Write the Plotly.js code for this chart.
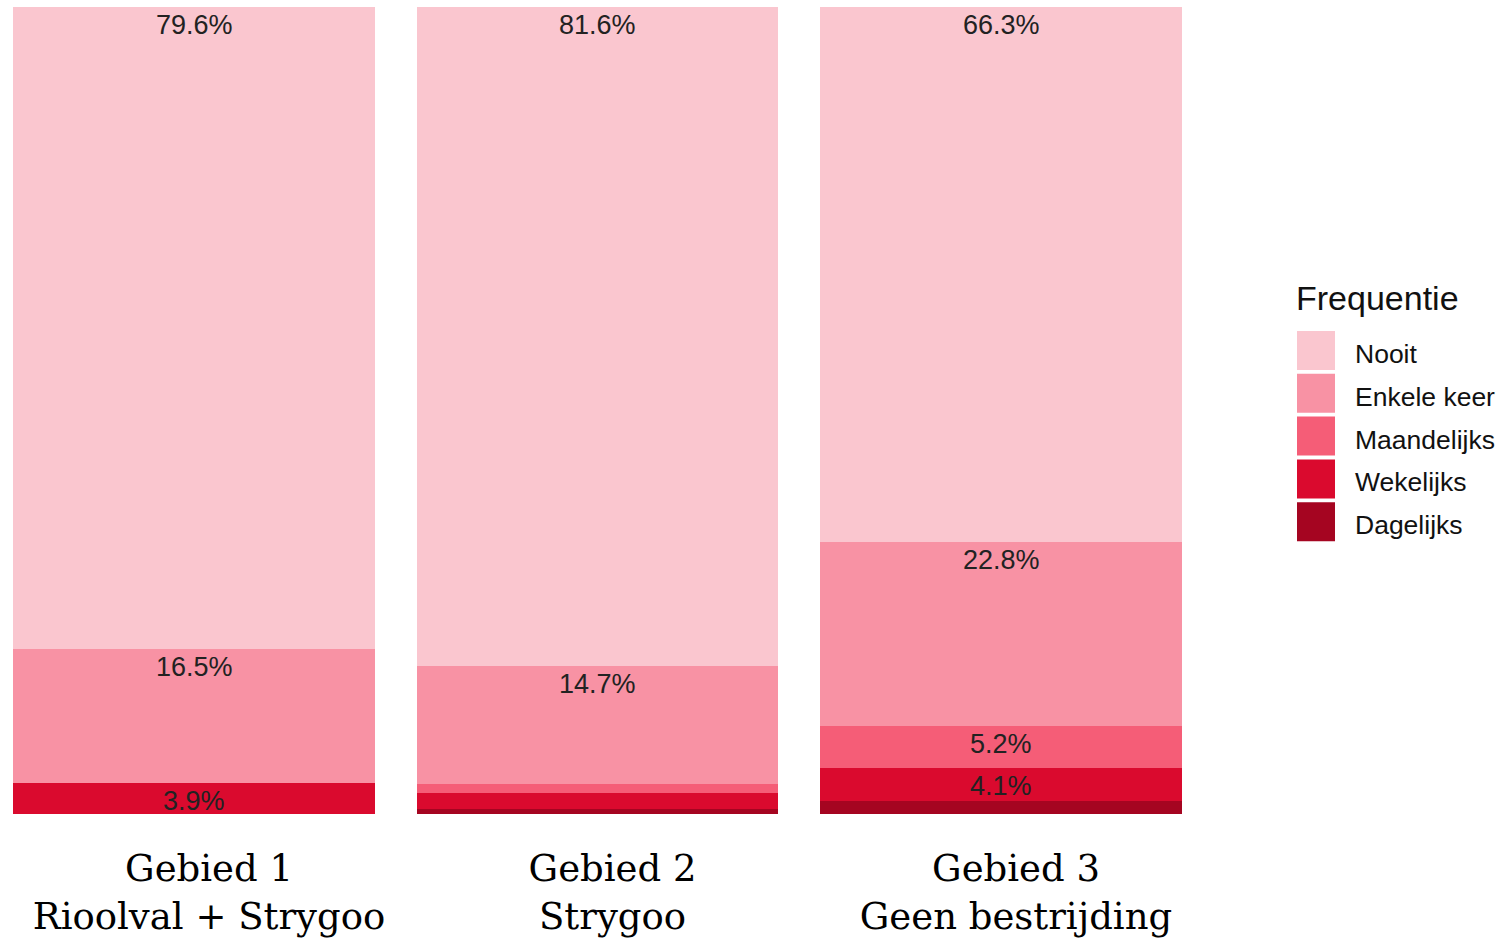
<!DOCTYPE html>
<html>
<head>
<meta charset="utf-8">
<script src="https://cdn.plot.ly/plotly-3.0.1.min.js"></script>
<style>html,body{margin:0;padding:0;background:#fff;}#chart{width:1501px;height:945px;}</style>
</head>
<body>
<div id="chart"></div>
<script>
// ---- data ----
const categories = ["Gebied 1<br>Rioolval + Strygoo", "Gebied 2<br>Strygoo", "Gebied 3<br>Geen bestrijding"];
const seriesNames = ["Nooit", "Enkele keer", "Maandelijks", "Wekelijks", "Dagelijks"];
const nooit       = [79.6, 81.6, 66.3];
const enkeleKeer  = [16.5, 14.7, 22.8];
const maandelijks = [0.0, 1.1, 5.2];
const wekelijks   = [3.9, 2.0, 4.1];
const dagelijks   = [0.0, 0.6, 1.6];
const seriesColors = ["#FAC6CF", "#F892A4", "#F55D77", "#DA0A2E", "#A50521"];
const legendTitle = "Frequentie";
const labelThreshold = 3.5;

const seriesValues = [nooit, enkeleKeer, maandelijks, wekelijks, dagelijks];

// ---- geometry ----
const W = 1501, H = 945;
const ml = 0, mr = 311, mt = 7, mb = 131;
const plotW = W - ml - mr, plotH = H - mt - mb;
const pxPerUnit = 403.5;
const firstCenter = 194;
const xRange = [-firstCenter / pxPerUnit, (plotW - firstCenter) / pxPerUnit];

// stack bottom-up: Dagelijks first
const traces = [];
for (let i = seriesNames.length - 1; i >= 0; i--) {
  traces.push({
    type: "bar",
    name: seriesNames[i],
    x: [0, 1, 2],
    y: seriesValues[i],
    marker: {color: seriesColors[i], line: {width: 0}},
    hoverinfo: "name+y",
    showlegend: false
  });
}

// value labels near top of each segment
const annotations = [];
for (let c = 0; c < categories.length; c++) {
  let cum = 0;
  for (let i = seriesNames.length - 1; i >= 0; i--) {
    const v = seriesValues[i][c];
    cum += v;
    if (v >= labelThreshold) {
      annotations.push({
        x: c, y: cum, xref: "x", yref: "y",
        text: v.toFixed(1) + "%",
        showarrow: false, yanchor: "middle", xanchor: "center",
        yshift: -18,
        font: {family: "Liberation Sans, Arial, sans-serif", size: 27, color: "#222"}
      });
    }
  }
}

// custom legend (paper coordinates)
const px2x = p => (p - ml) / plotW;
const px2y = p => 1 - (p - mt) / plotH;
const shapes = [];
annotations.push({
  xref: "paper", yref: "paper", x: px2x(1294), y: px2y(298),
  xanchor: "left", yanchor: "middle", showarrow: false,
  text: legendTitle,
  font: {family: "Liberation Sans, Arial, sans-serif", size: 34, color: "#111"}
});
for (let i = 0; i < seriesNames.length; i++) {
  const top = 331 + i * 42.8;
  shapes.push({
    type: "rect", xref: "paper", yref: "paper",
    x0: px2x(1297), x1: px2x(1335), y0: px2y(top + 39), y1: px2y(top),
    fillcolor: seriesColors[i], line: {width: 0}
  });
  annotations.push({
    xref: "paper", yref: "paper", x: px2x(1353), y: px2y(top + 23),
    xanchor: "left", yanchor: "middle", showarrow: false,
    text: seriesNames[i],
    font: {family: "Liberation Sans, Arial, sans-serif", size: 26.5, color: "#111"}
  });
}

const layout = {
  width: W, height: H,
  margin: {l: ml, r: mr, t: mt, b: mb, pad: 0},
  paper_bgcolor: "#ffffff", plot_bgcolor: "#ffffff",
  barmode: "stack",
  bargap: 0.103,
  showlegend: false,
  xaxis: {
    type: "linear", range: xRange,
    tickmode: "array", tickvals: [0, 1, 2], ticktext: categories,
    showgrid: false, zeroline: false, showline: false, ticks: "",
    ticklabelshift: 15, ticklabelstandoff: 29,
    tickfont: {family: "DejaVu Serif, serif", size: 37, color: "#000"}
  },
  yaxis: {
    range: [0, 100], showgrid: false, zeroline: false, showline: false,
    showticklabels: false, ticks: ""
  },
  annotations: annotations,
  shapes: shapes
};

Plotly.newPlot("chart", traces, layout, {displayModeBar: false, staticPlot: true});
</script>
</body>
</html>
